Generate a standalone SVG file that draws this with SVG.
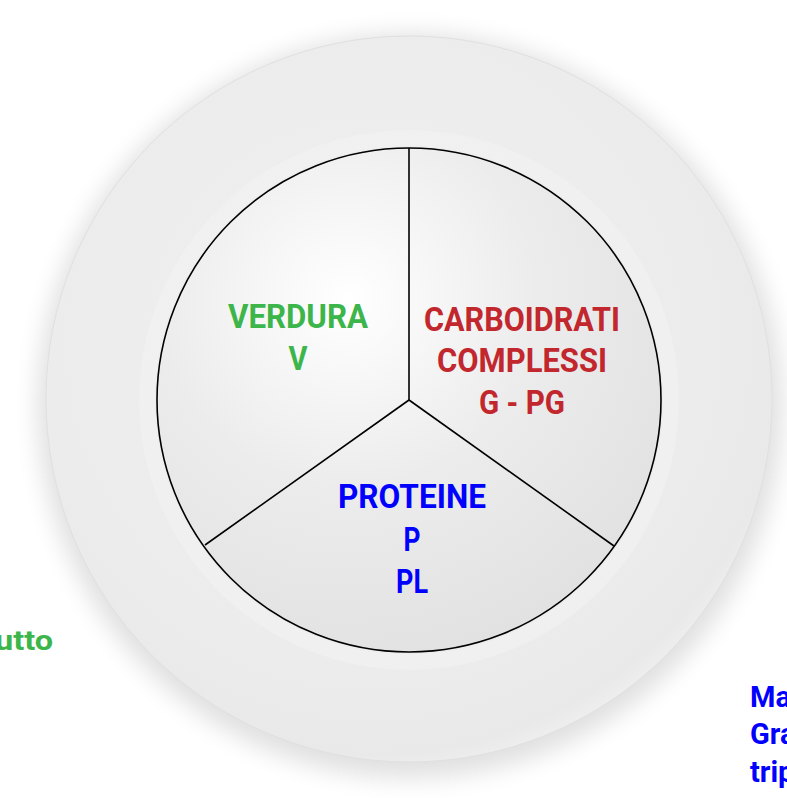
<svg xmlns="http://www.w3.org/2000/svg" width="787" height="798" viewBox="0 0 787 798">
<defs>
<style>
.t{font-family:Roboto,"Liberation Sans",sans-serif;font-weight:700;text-anchor:middle;font-size:34px}
.g{fill:#3cb54a}.r{fill:#c1272d}.b{fill:#0000ff}
.ln{stroke:#000;stroke-width:1.6;fill:none}
</style>
<filter id="sh" x="-20%" y="-20%" width="140%" height="140%"><feGaussianBlur stdDeviation="12"/></filter>
<radialGradient id="rim" cx="0.45" cy="0.42" r="0.6">
<stop offset="0" stop-color="#f0f0f0"/><stop offset="0.75" stop-color="#ececec"/><stop offset="0.95" stop-color="#e9e9e9"/><stop offset="1" stop-color="#efefef"/>
</radialGradient>
<radialGradient id="well" cx="0.38" cy="0.3" r="0.75">
<stop offset="0" stop-color="#ffffff"/><stop offset="0.5" stop-color="#ececec"/><stop offset="1" stop-color="#e1e1e1"/>
</radialGradient>
</defs>
<rect width="787" height="798" fill="#fff"/>
<g id="plate">
<circle cx="410" cy="406" r="372" fill="#000" opacity="0.12" filter="url(#sh)"/>
<circle cx="409" cy="399" r="363" fill="url(#rim)" stroke="#e0e0e0" stroke-width="1"/>
<circle cx="409" cy="400" r="262" fill="none" stroke="#f4f4f4" stroke-width="16" opacity="0.5"/>
<circle cx="409" cy="400" r="252" fill="url(#well)"/>
</g>
<g id="connectors">
<circle class="ln" cx="409" cy="400" r="252"/>
<line class="ln" x1="409" y1="400" x2="409" y2="148"/>
<line class="ln" x1="409" y1="400" x2="205" y2="545"/>
<line class="ln" x1="409" y1="400" x2="614" y2="546"/>
</g>
<g id="verdura">
<text class="t g" x="298" y="328" textLength="140" lengthAdjust="spacingAndGlyphs">VERDURA</text>
<text class="t g" x="298" y="370" textLength="19" lengthAdjust="spacingAndGlyphs">V</text>
</g>
<g id="carboidrati">
<text class="t r" x="522" y="331" textLength="196" lengthAdjust="spacingAndGlyphs">CARBOIDRATI</text>
<text class="t r" x="522" y="372" textLength="170" lengthAdjust="spacingAndGlyphs">COMPLESSI</text>
<text class="t r" x="522" y="414" textLength="86" lengthAdjust="spacingAndGlyphs">G - PG</text>
</g>
<g id="proteine">
<text class="t b" x="412" y="508" textLength="148" lengthAdjust="spacingAndGlyphs">PROTEINE</text>
<text class="t b" x="412" y="551" textLength="17" lengthAdjust="spacingAndGlyphs">P</text>
<text class="t b" x="412" y="593" textLength="32" lengthAdjust="spacingAndGlyphs">PL</text>
</g>
<g id="left-note">
<text class="t g" x="53" y="650" style="text-anchor:end;font-size:27px" textLength="58" lengthAdjust="spacingAndGlyphs">utto</text>
</g>
<g id="right-note">
<text class="t b" x="750" y="707" style="text-anchor:start;font-size:29px">Ma</text>
<text class="t b" x="750" y="744" style="text-anchor:start;font-size:29px">Gra</text>
<text class="t b" x="750" y="782" style="text-anchor:start;font-size:29px">trip</text>
</g>
</svg>
